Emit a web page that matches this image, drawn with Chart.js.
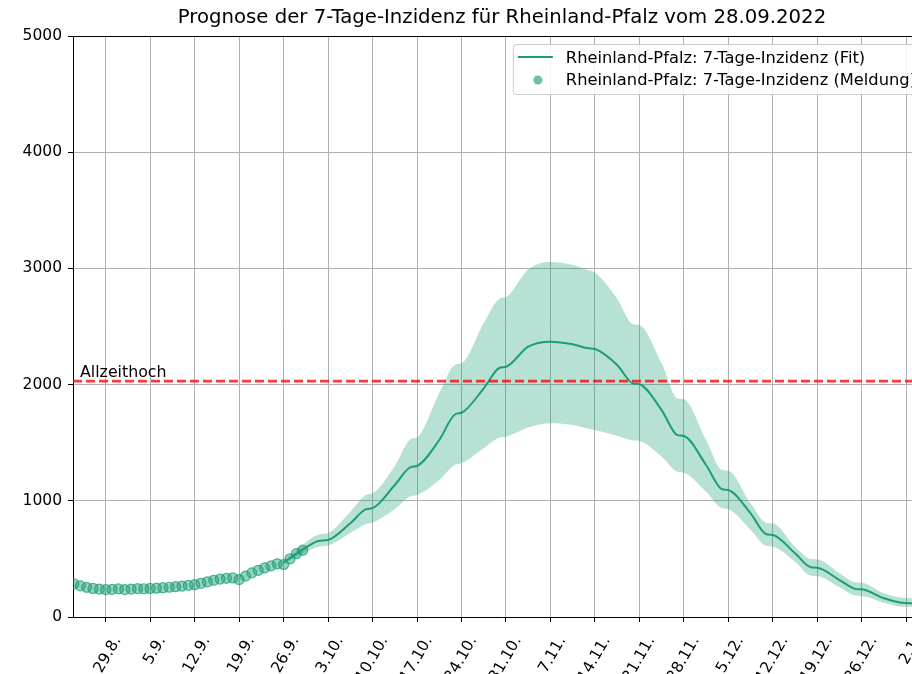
<!DOCTYPE html>
<html>
<head>
<meta charset="utf-8">
<script src="https://cdn.jsdelivr.net/npm/chart.js@4.4.1/dist/chart.umd.min.js"></script>
<style>
  html, body { margin: 0; padding: 0; background: #fff; overflow: hidden; }
  #wrap { width: 912px; height: 674px; overflow: hidden; position: relative; }
  canvas { display: block; }
</style>
</head>
<body>
<div id="wrap"><canvas id="c" width="960" height="674" style="width:960px;height:674px"></canvas></div>
<script>
// ---- Data (days counted from 29.8.2022) ----
const titleText = 'Prognose der 7-Tage-Inzidenz für Rheinland-Pfalz vom 28.09.2022';
const tickDays = [0, 7, 14, 21, 28, 35, 42, 49, 56, 63, 70, 77, 84, 91, 98, 105, 112, 119, 126];
const tickLabels = ['29.8.', '5.9.', '12.9.', '19.9.', '26.9.', '3.10.', '10.10.', '17.10.', '24.10.', '31.10.', '7.11.', '14.11.', '21.11.', '28.11.', '5.12.', '12.12.', '19.12.', '26.12.', '2.1.'];
const yTicks = [0, 1000, 2000, 3000, 4000, 5000];

const obsDays = [-5, -4, -3, -2, -1, 0, 1, 2, 3, 4, 5, 6, 7, 8, 9, 10, 11, 12, 13, 14, 15, 16, 17, 18, 19, 20, 21, 22, 23, 24, 25, 26, 27, 28, 29, 30, 31];
const obsValues = [285, 268, 255, 246, 240, 236, 238, 242, 236, 240, 244, 243, 246, 248, 252, 256, 261, 266, 272, 278, 290, 303, 316, 326, 333, 336, 322, 352, 380, 402, 422, 440, 458, 452, 500, 545, 575];

const fitDays  = [28, 31, 33.5, 35, 38.5, 41, 42, 45.5, 48, 49, 52.5, 55, 56, 59.5, 62, 63, 66.5, 70, 73.5, 76, 77, 80.5, 83, 84, 87.5, 90, 91, 94.5, 97, 98, 101.5, 104, 105, 108.5, 111, 112, 115.5, 118, 119, 122.5, 125, 126, 130];
const fitValues = [470, 580, 655, 663, 806, 928, 937, 1136, 1290, 1300, 1523, 1745, 1758, 1968, 2145, 2154, 2326, 2369, 2347, 2312, 2306, 2169, 2010, 2003, 1781, 1565, 1558, 1308, 1100, 1093, 892, 712, 706, 548, 428, 424, 318, 242, 238, 161, 125, 120, 105];
const fitUpper  = [480, 620, 710, 723, 906, 1050, 1064, 1300, 1530, 1546, 1928, 2170, 2183, 2530, 2740, 2754, 2990, 3055, 3030, 2985, 2965, 2740, 2520, 2513, 2183, 1880, 1873, 1523, 1265, 1259, 978, 810, 806, 605, 500, 497, 376, 298, 295, 204, 168, 163, 148];
const fitLower  = [455, 545, 605, 615, 723, 800, 812, 930, 1040, 1050, 1179, 1310, 1323, 1452, 1545, 1552, 1630, 1667, 1652, 1620, 1610, 1560, 1520, 1515, 1380, 1250, 1242, 1078, 935, 927, 749, 610, 605, 476, 356, 353, 256, 184, 181, 123, 90, 88, 78];

const allTimeHigh = 2030;
const allTimeHighLabel = 'Allzeithoch';
const legendLabels = ['Rheinland-Pfalz: 7-Tage-Inzidenz (Fit)', 'Rheinland-Pfalz: 7-Tage-Inzidenz (Meldung)'];
const xRange = [-5.15, 129.9];

// ---- Styling ----
const TEAL = '#1b9e77';
const TEAL_BAND = 'rgba(27,158,119,0.31)';
const TEAL_PT_FILL = 'rgba(27,158,119,0.45)';
const TEAL_PT_EDGE = 'rgba(27,158,119,0.75)';
const FONT = '"DejaVu Sans", "Liberation Sans", sans-serif';
const TICK_SIZE = 15.5;

const pts = (xs, ys) => xs.map((x, i) => ({ x: x, y: ys[i] }));

const extras = {
  id: 'extras',
  afterDatasetsDraw(chart) {
    const { ctx, chartArea: a, scales } = chart;
    ctx.save();
    // top spine
    ctx.strokeStyle = '#000';
    ctx.lineWidth = 1;
    ctx.beginPath();
    ctx.moveTo(a.left, a.top + 0.5);
    ctx.lineTo(a.right, a.top + 0.5);
    ctx.stroke();
    // all-time-high label
    const yH = scales.y.getPixelForValue(allTimeHigh);
    ctx.fillStyle = '#000';
    ctx.font = '15.8px ' + FONT;
    ctx.textAlign = 'left';
    ctx.textBaseline = 'alphabetic';
    ctx.fillText(allTimeHighLabel, a.left + 7, yH - 4);
    // legend
    ctx.font = '16.3px ' + FONT;
    const tw = Math.max(...legendLabels.map(t => ctx.measureText(t).width));
    const right = a.right - 7;
    const w = 53 + tw + 8;
    const left = right - w;
    const top = a.top + 8;
    const h = 50;
    ctx.fillStyle = 'rgba(255,255,255,0.85)';
    ctx.strokeStyle = '#cccccc';
    ctx.lineWidth = 1;
    ctx.beginPath();
    ctx.roundRect(left + 0.5, top + 0.5, w, h, 3);
    ctx.fill();
    ctx.stroke();
    ctx.strokeStyle = TEAL;
    ctx.lineWidth = 2;
    ctx.beginPath();
    ctx.moveTo(left + 5, top + 13);
    ctx.lineTo(left + 40, top + 13);
    ctx.stroke();
    ctx.fillStyle = 'rgba(27,158,119,0.65)';
    ctx.beginPath();
    ctx.arc(left + 25, top + 36, 4.5, 0, Math.PI * 2);
    ctx.fill();
    ctx.fillStyle = '#000';
    ctx.textBaseline = 'middle';
    ctx.fillText(legendLabels[0], left + 53, top + 15);
    ctx.fillText(legendLabels[1], left + 53, top + 37);
    ctx.restore();
  }
};

new Chart(document.getElementById('c'), {
  type: 'line',
  data: {
    datasets: [
      {
        label: 'upper', data: pts(fitDays, fitUpper), borderWidth: 0, pointRadius: 0,
        backgroundColor: TEAL_BAND, borderColor: 'rgba(0,0,0,0)', fill: '+1',
        cubicInterpolationMode: 'monotone', order: 5
      },
      {
        label: 'lower', data: pts(fitDays, fitLower), borderWidth: 0, pointRadius: 0,
        borderColor: 'rgba(0,0,0,0)', fill: false,
        cubicInterpolationMode: 'monotone', order: 6
      },
      {
        label: legendLabels[0], data: pts(fitDays, fitValues), borderColor: TEAL, borderWidth: 2,
        pointRadius: 0, fill: false, cubicInterpolationMode: 'monotone', order: 3
      },
      {
        label: legendLabels[1], data: pts(obsDays, obsValues), showLine: false,
        pointRadius: 5, pointBackgroundColor: TEAL_PT_FILL, pointBorderColor: TEAL_PT_EDGE,
        pointBorderWidth: 1.2, order: 2
      },
      {
        label: allTimeHighLabel, data: [{ x: xRange[0], y: allTimeHigh }, { x: xRange[1], y: allTimeHigh }],
        borderColor: 'rgba(255,0,0,0.78)', borderWidth: 2.6, borderDash: [9, 4],
        pointRadius: 0, fill: false, order: 1
      }
    ]
  },
  options: {
    responsive: false,
    animation: false,
    devicePixelRatio: 1,
    layout: { padding: { top: 0, right: 29, bottom: 0, left: 0 } },
    plugins: {
      legend: { display: false },
      tooltip: { enabled: false },
      title: {
        display: true, text: titleText, color: '#000', fullSize: false,
        font: { family: FONT, size: 19.7, weight: 'normal', lineHeight: 1.2 },
        padding: { top: 6, bottom: 6.4 }
      }
    },
    scales: {
      x: {
        type: 'linear', min: xRange[0], max: xRange[1],
        afterBuildTicks: s => { s.ticks = tickDays.map(v => ({ value: v })); },
        afterFit: s => { s.height = 57; },
        ticks: {
          autoSkip: false, minRotation: 60, maxRotation: 60,
          callback: (v, i) => tickLabels[i],
          color: '#000', font: { family: FONT, size: TICK_SIZE }, padding: 11, labelOffset: 12
        },
        grid: { color: '#b0b0b0', lineWidth: 1, tickLength: 5, tickColor: '#000' },
        border: { color: '#000', width: 1 }
      },
      y: {
        min: 0, max: 5000,
        afterBuildTicks: s => { s.ticks = yTicks.map(v => ({ value: v })); },
        afterFit: s => { s.width = 73; },
        ticks: { color: '#000', font: { family: FONT, size: TICK_SIZE }, padding: 6, callback: v => String(v) },
        grid: { color: '#b0b0b0', lineWidth: 1, tickLength: 5, tickColor: '#000' },
        border: { color: '#000', width: 1 }
      }
    }
  },
  plugins: [extras]
});
</script>
</body>
</html>
